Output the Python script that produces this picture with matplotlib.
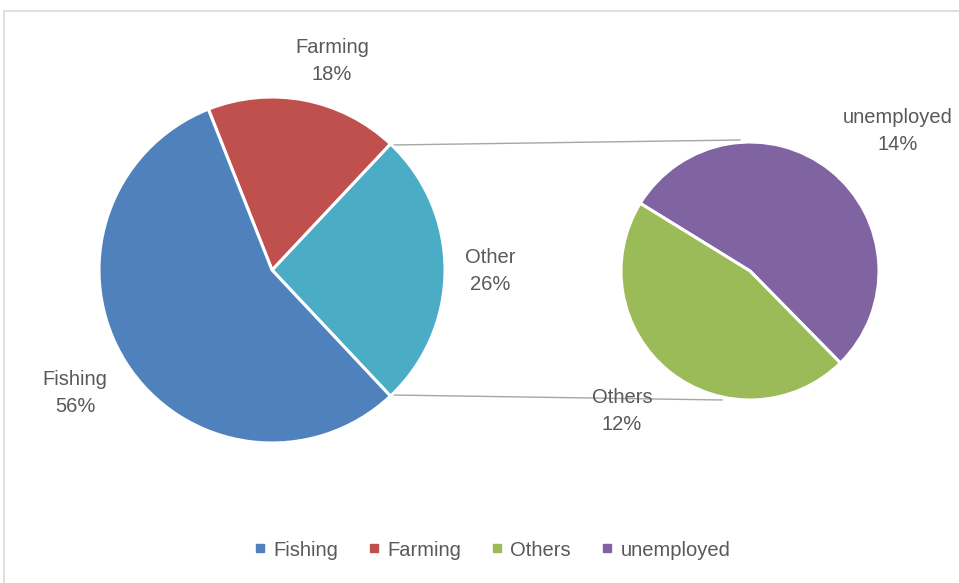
import matplotlib.pyplot as plt
from matplotlib.lines import Line2D
from matplotlib.patches import Rectangle

# Main pie: share of each occupation
main_labels = ["Other", "Farming", "Fishing"]
main_values = [26, 18, 56]
main_colors = ["#4BACC6", "#C0504D", "#4F81BD"]

# Secondary pie: breakdown of "Other"
sub_labels = ["unemployed", "Others"]
sub_values = [14, 12]
sub_colors = ["#8064A2", "#9BBB59"]

legend_labels = ["Fishing", "Farming", "Others", "unemployed"]
legend_colors = ["#4F81BD", "#C0504D", "#9BBB59", "#8064A2"]

W, H = 959, 583
fig = plt.figure(figsize=(W / 100, H / 100), dpi=100)
ax = fig.add_axes([0, 0, 1, 1])

def py(y):
    # pixel row (top-down) to data y (bottom-up)
    return H - y

main_c = (272, py(270))
main_r = 173
sub_c = (750, py(271))
sub_r = 129

text_color = "#595959"
font = "Liberation Sans"

# "Other" wedge centred on 3 o'clock
start = -main_values[0] / sum(main_values) * 360 / 2
ax.pie(main_values, colors=main_colors, startangle=start, counterclock=True,
       center=main_c, radius=main_r, frame=True,
       wedgeprops=dict(edgecolor="white", linewidth=2.2))

ax.pie(sub_values, colors=sub_colors, startangle=-45.5, counterclock=True,
       center=sub_c, radius=sub_r, frame=True,
       wedgeprops=dict(edgecolor="white", linewidth=2.2))

# connector lines between the "Other" wedge and the secondary pie
ax.plot([392, 740], [py(145), py(140)], color="#a6a6a6", lw=1.0, zorder=0.5)
ax.plot([392, 722], [py(395), py(400)], color="#a6a6a6", lw=1.0, zorder=0.5)

label_pos = {
    "Farming": (332, 61),
    "Other": (490, 271),
    "Fishing": (75, 393),
    "unemployed": (898, 131),
    "Others": (622, 411),
}
for name, val in zip(main_labels + sub_labels, main_values + sub_values):
    x, y = label_pos[name]
    ax.text(x, py(y), f"{name}\n{val}%", ha="center", va="center",
            fontsize=14.5, color=text_color, family=font, linespacing=1.55)

# chart frame
ax.add_patch(Rectangle((4, py(700)), 1000, 689, fill=False,
                       edgecolor="#d9d9d9", lw=1.2, zorder=0))

handles = [Line2D([], [], marker="s", linestyle="none", markersize=6,
                  markerfacecolor=c, markeredgecolor=c) for c in legend_colors]
fig.legend(handles, legend_labels, loc="center", bbox_to_anchor=(0.513, 1 - 550 / H),
           ncol=4, frameon=False, handlelength=0.6, handletextpad=0.35,
           columnspacing=1.5, prop={"family": font, "size": 14.5},
           labelcolor=text_color)

ax.set_xlim(0, W)
ax.set_ylim(0, H)
ax.set_aspect("equal")
ax.axis("off")

fig.savefig("out.png", dpi=100)
